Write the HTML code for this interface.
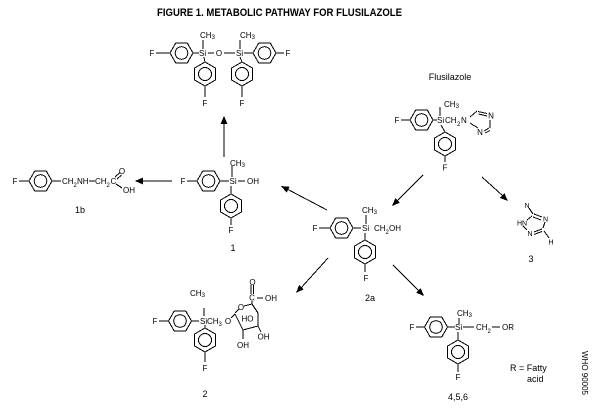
<!DOCTYPE html>
<html>
<head>
<meta charset="utf-8">
<style>
html,body{margin:0;padding:0;background:#fff;}
svg{display:block;}
text{font-family:"Liberation Sans",Arial,sans-serif;fill:#000;}
</style>
</head>
<body>
<svg width="600" height="410" viewBox="0 0 600 410" xmlns="http://www.w3.org/2000/svg" shape-rendering="crispEdges">
<rect width="600" height="410" fill="#fff"/>
<defs>
<g id="hr" fill="none" stroke="#000" stroke-width="1">
<polygon points="-11.5,0 -5.75,-10 5.75,-10 11.5,0 5.75,10 -5.75,10"/>
<circle r="6.3"/>
</g>
<g id="vr" fill="none" stroke="#000" stroke-width="1">
<polygon points="0,-12 10.4,-6 10.4,6 0,12 -10.4,6 -10.4,-6"/>
<circle r="6.5"/>
</g>
</defs>

<!-- Title -->
<text x="157" y="16" font-size="11" font-weight="bold" textLength="245" lengthAdjust="spacingAndGlyphs">FIGURE 1.  METABOLIC PATHWAY FOR FLUSILAZOLE</text>

<g stroke="#000" stroke-width="1" fill="none">
<!-- Dimer -->
<line x1="156" y1="53" x2="170" y2="53"/>
<line x1="193" y1="53" x2="199" y2="53"/>
<line x1="203" y1="40" x2="203" y2="49"/>
<line x1="208" y1="53" x2="214" y2="53"/>
<line x1="224" y1="53" x2="235" y2="53"/>
<line x1="240" y1="40" x2="240" y2="49"/>
<line x1="244" y1="53" x2="253" y2="53"/>
<line x1="276" y1="53" x2="284" y2="53"/>
<line x1="204" y1="57" x2="205" y2="62"/>
<line x1="240" y1="57" x2="242" y2="62"/>
<line x1="205" y1="86" x2="205" y2="97"/>
<line x1="242" y1="86" x2="242" y2="97"/>

<!-- Compound 1 -->
<line x1="187" y1="181" x2="197" y2="181"/>
<line x1="220" y1="181" x2="229" y2="181"/>
<line x1="232" y1="166" x2="232" y2="177"/>
<line x1="238" y1="181" x2="245" y2="181"/>
<line x1="231" y1="186" x2="231" y2="194"/>
<line x1="231" y1="218" x2="231" y2="225"/>

<!-- 1b -->
<line x1="19" y1="181" x2="29" y2="181"/>
<line x1="52" y1="181" x2="61" y2="181"/>
<line x1="89" y1="181" x2="95" y2="181"/>
<line x1="115" y1="177" x2="120" y2="172.5"/>
<line x1="117" y1="179" x2="121.5" y2="175"/>
<line x1="116" y1="184" x2="122" y2="188"/>

<!-- Flusilazole -->
<line x1="401" y1="120" x2="410" y2="120"/>
<line x1="433" y1="120" x2="437" y2="120"/>
<line x1="440" y1="107" x2="440" y2="116"/>
<line x1="441" y1="125" x2="445" y2="132"/>
<line x1="445" y1="156" x2="445" y2="162"/>
<line x1="470" y1="117" x2="477" y2="111"/>
<line x1="478" y1="111.5" x2="487" y2="113.5"/>
<line x1="478.5" y1="114" x2="487" y2="116"/>
<line x1="490" y1="120" x2="490" y2="128"/>
<line x1="489" y1="128" x2="484" y2="131"/>
<line x1="490" y1="130.5" x2="485" y2="133"/>
<line x1="478" y1="128" x2="470" y2="123"/>

<!-- 2a -->
<line x1="319" y1="228" x2="330" y2="228"/>
<line x1="353" y1="228" x2="361" y2="228"/>
<line x1="366" y1="215" x2="366" y2="224"/>
<line x1="365" y1="233" x2="365" y2="240"/>
<line x1="365" y1="264" x2="365" y2="272"/>

<!-- Compound 3 -->
<line x1="529" y1="208" x2="533" y2="214"/>
<line x1="534" y1="214" x2="542" y2="217"/>
<line x1="533" y1="217" x2="541" y2="220"/>
<line x1="527" y1="220" x2="532" y2="216"/>
<line x1="523" y1="226" x2="527" y2="230"/>
<line x1="534" y1="232" x2="542" y2="229"/>
<line x1="534" y1="234.5" x2="542" y2="231.5"/>
<line x1="545" y1="222" x2="543" y2="228"/>
<line x1="544" y1="231" x2="549" y2="238"/>

<!-- Compound 2 -->
<line x1="204" y1="308" x2="204" y2="316"/>
<line x1="159" y1="321" x2="168" y2="321"/>
<line x1="192" y1="321" x2="199" y2="321"/>
<line x1="205" y1="325" x2="205" y2="328"/>
<line x1="205" y1="352" x2="205" y2="362"/>
<line x1="231" y1="318" x2="235" y2="314"/>
<line x1="235" y1="313" x2="239" y2="309"/>
<line x1="244" y1="306" x2="252" y2="304"/>
<line x1="252" y1="304" x2="252" y2="301"/>
<line x1="251" y1="294" x2="251" y2="285"/>
<line x1="253.5" y1="294" x2="253.5" y2="285"/>
<line x1="257" y1="298" x2="263" y2="298"/>
<line x1="252" y1="304" x2="258" y2="313"/>
<line x1="258" y1="313" x2="258" y2="326"/>
<line x1="258" y1="326" x2="243" y2="330"/>
<line x1="243" y1="330" x2="235" y2="314"/>
<line x1="243" y1="330" x2="243" y2="339"/>
<line x1="258" y1="326" x2="261" y2="332"/>

<!-- 4,5,6 -->
<line x1="459" y1="318" x2="459" y2="324"/>
<line x1="416" y1="327" x2="425" y2="327"/>
<line x1="447" y1="327" x2="455" y2="327"/>
<line x1="463" y1="327" x2="474" y2="327"/>
<line x1="492" y1="327" x2="500" y2="327"/>
<line x1="458" y1="332" x2="458" y2="340"/>
<line x1="458" y1="364" x2="458" y2="372"/>

<!-- Arrows -->
<line x1="224" y1="157" x2="224" y2="122"/>
<line x1="172" y1="181" x2="141" y2="181"/>
<line x1="327" y1="210" x2="287" y2="189"/>
<line x1="423" y1="175" x2="397" y2="201"/>
<line x1="482" y1="177" x2="503" y2="196"/>
<line x1="328" y1="258" x2="301" y2="288"/>
<line x1="393" y1="265" x2="419" y2="291"/>
</g>

<g fill="#000" stroke="none">
<polygon points="224,116 220.5,124 227.5,124"/>
<polygon points="135,181 143,177.5 143,184.5"/>
<polygon points="281,186 289.5,186.8 286.6,192.6"/>
<polygon points="392,206 400,202.6 395.4,198"/>
<polygon points="508,201 500,198 504.3,193.2"/>
<polygon points="296,293 303.8,289.3 299.1,285"/>
<polygon points="424,296 416,292.6 420.6,288"/>
</g>

<!-- Rings -->
<use href="#hr" x="181.5" y="53"/>
<use href="#hr" x="264.5" y="53"/>
<use href="#vr" x="205" y="74"/>
<use href="#vr" x="242" y="74"/>
<use href="#hr" x="208.5" y="181"/>
<use href="#vr" x="231" y="206"/>
<use href="#hr" x="40.5" y="181"/>
<use href="#hr" x="421.5" y="120"/>
<use href="#vr" x="445" y="144"/>
<use href="#hr" x="341.5" y="228"/>
<use href="#vr" x="365" y="252"/>
<use href="#hr" x="180" y="321"/>
<use href="#vr" x="205" y="340"/>
<use href="#hr" x="436" y="327"/>
<use href="#vr" x="458" y="352"/>

<g font-size="8">
<!-- Dimer text -->
<text x="152" y="56" text-anchor="middle">F</text>
<text x="200" y="38">CH<tspan font-size="6" dy="1">3</tspan></text>
<text x="199" y="56">Si</text>
<text x="219" y="56" text-anchor="middle">O</text>
<text x="236" y="56">Si</text>
<text x="240" y="38">CH<tspan font-size="6" dy="1">3</tspan></text>
<text x="288" y="56" text-anchor="middle">F</text>
<text x="205" y="106" text-anchor="middle">F</text>
<text x="242" y="106" text-anchor="middle">F</text>

<!-- Compound 1 -->
<text x="183" y="184" text-anchor="middle">F</text>
<text x="229.5" y="184">Si</text>
<text x="230" y="166">CH<tspan font-size="6" dy="1">3</tspan></text>
<text x="247" y="184">OH</text>
<text x="231" y="233" text-anchor="middle">F</text>

<!-- 1b -->
<text x="15" y="184" text-anchor="middle">F</text>
<text x="62" y="184">CH</text>
<text x="73.5" y="187" font-size="6">2</text>
<text x="77" y="184">NH</text>
<text x="95" y="184">CH</text>
<text x="106.5" y="187" font-size="6">2</text>
<text x="110.5" y="184">C</text>
<text x="122" y="174" text-anchor="middle">O</text>
<text x="123" y="193">OH</text>

<!-- Flusilazole -->
<text x="397" y="123" text-anchor="middle">F</text>
<text x="437" y="123">Si</text>
<text x="445" y="123">CH</text>
<text x="457" y="126" font-size="6">2</text>
<text x="461" y="123">N</text>
<text x="444" y="107">CH<tspan font-size="6" dy="1">3</tspan></text>
<text x="491" y="118.5" text-anchor="middle">N</text>
<text x="480" y="135" text-anchor="middle">N</text>
<text x="445" y="170.5" text-anchor="middle">F</text>

<!-- 2a -->
<text x="315" y="231" text-anchor="middle">F</text>
<text x="362" y="231">Si</text>
<text x="362" y="213">CH<tspan font-size="6" dy="1">3</tspan></text>
<text x="374" y="231">CH</text>
<text x="385.5" y="234" font-size="6">2</text>
<text x="389" y="231">OH</text>
<text x="366" y="281" text-anchor="middle">F</text>

<!-- Compound 2 -->
<text x="190" y="296">CH<tspan font-size="6" dy="1">3</tspan></text>
<text x="155" y="324" text-anchor="middle">F</text>
<text x="200" y="324">Si</text>
<text x="207" y="324">CH</text>
<text x="218.5" y="326" font-size="6">3</text>
<text x="228" y="324" text-anchor="middle">O</text>
<text x="241" y="310" text-anchor="middle">O</text>
<text x="252.5" y="285" text-anchor="middle">O</text>
<text x="252" y="300.5" text-anchor="middle">C</text>
<text x="265" y="301">OH</text>
<text x="247.5" y="321.5" text-anchor="middle">HO</text>
<text x="263.5" y="339.5" text-anchor="middle">OH</text>
<text x="243" y="348" text-anchor="middle">OH</text>
<text x="205" y="371" text-anchor="middle">F</text>

<!-- 4,5,6 -->
<text x="457" y="316">CH<tspan font-size="6" dy="1">3</tspan></text>
<text x="412" y="330" text-anchor="middle">F</text>
<text x="455" y="330">Si</text>
<text x="476" y="330">CH</text>
<text x="487.5" y="333" font-size="6">2</text>
<text x="502" y="330">OR</text>
<text x="458" y="380" text-anchor="middle">F</text>

<text transform="translate(582,373) rotate(90)" text-anchor="middle">WHO 90005</text>
</g>

<!-- Compound 3 small -->
<g font-size="7">
<text x="527" y="208" text-anchor="middle">N</text>
<text x="545.5" y="221.5" text-anchor="middle">N</text>
<text x="522" y="225.5" text-anchor="middle">HN</text>
<text x="530" y="236" text-anchor="middle">N</text>
<text x="551" y="244.5" text-anchor="middle">H</text>
</g>

<!-- Labels -->
<g font-size="9">
<text x="450" y="80" text-anchor="middle">Flusilazole</text>
<text x="233" y="251" text-anchor="middle">1</text>
<text x="80" y="213" text-anchor="middle">1b</text>
<text x="370" y="301" text-anchor="middle">2a</text>
<text x="531" y="262" text-anchor="middle">3</text>
<text x="205" y="397" text-anchor="middle">2</text>
<text x="458" y="400" text-anchor="middle">4,5,6</text>
<text x="510" y="371">R = Fatty</text>
<text x="527" y="382">acid</text>
</g>
</svg>
</body>
</html>
